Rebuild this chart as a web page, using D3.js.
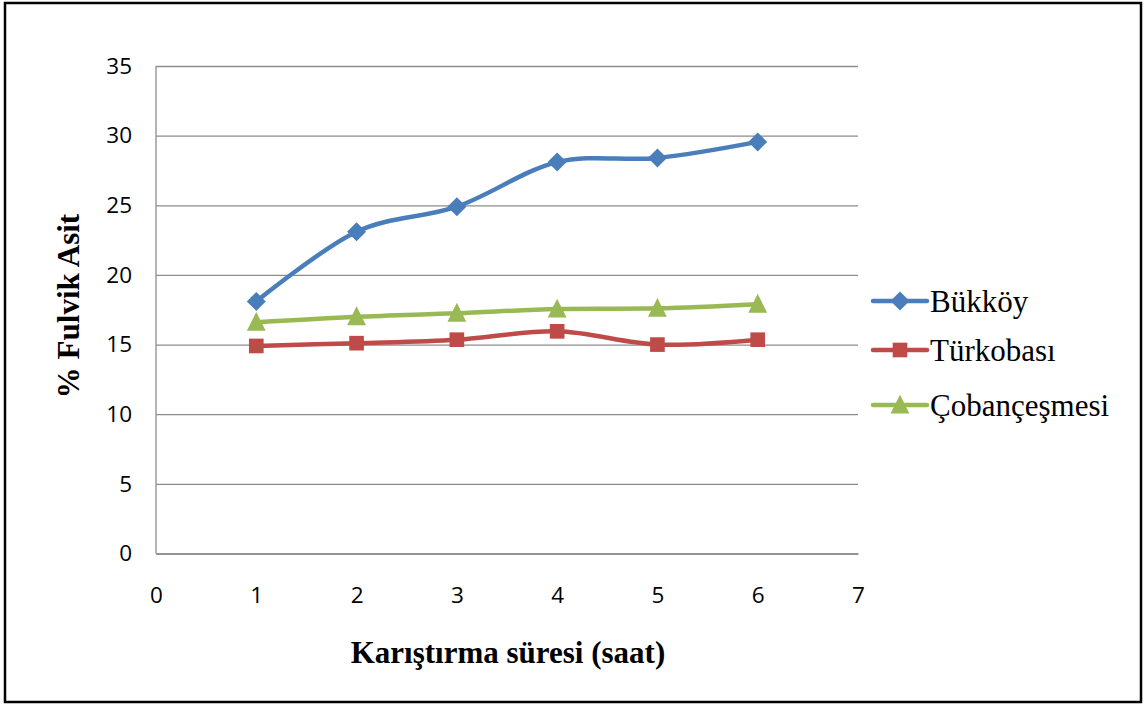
<!DOCTYPE html>
<html>
<head>
<meta charset="utf-8">
<script src="https://cdn.jsdelivr.net/npm/d3@7"></script>
<style>
  body { margin: 0; background: #fff; }
  .grid line { stroke: #8c8c8c; stroke-width: 1.3; }
</style>
</head>
<body>
<svg width="1148" height="706"></svg>
<script>
let svg = d3.select("svg"),
    width = +svg.attr("width"),
    height = +svg.attr("height");

// values
let hours = [1, 2, 3, 4, 5, 6];
let bukkoy = [18.1, 23.1, 24.9, 28.1, 28.4, 29.55];
let turkobasi = [14.9, 15.1, 15.35, 15.95, 15.0, 15.35];
let cobancesmesi = [16.6, 17.0, 17.25, 17.55, 17.6, 17.9];
let seriesNames = ["Bükköy", "Türkobası", "Çobançeşmesi"];
let seriesColors = ["#4a7ebb", "#be4b48", "#98b954"];
let xTicks = [0, 1, 2, 3, 4, 5, 6, 7];
let yTicks = [0, 5, 10, 15, 20, 25, 30, 35];

// diamond = square turned 45deg, like the office marker
let diamond = {
    draw(ctx, size) {
        let r = Math.sqrt(size) / 2 * Math.SQRT2;
        ctx.moveTo(0, -r); ctx.lineTo(r, 0); ctx.lineTo(0, r); ctx.lineTo(-r, 0); ctx.closePath();
    }
};
let triangle = {
    draw(ctx, size) {
        let w = Math.sqrt(size) * 1.3, h = Math.sqrt(size) * 1.3;
        ctx.moveTo(0, -h * 0.55); ctx.lineTo(w / 2, h * 0.45); ctx.lineTo(-w / 2, h * 0.45); ctx.closePath();
    }
};

let series = [bukkoy, turkobasi, cobancesmesi].map((vals, i) => ({
    name: seriesNames[i],
    color: seriesColors[i],
    shape: [diamond, d3.symbolSquare, triangle][i],
    size: [180, 215, 210][i],
    points: hours.map((h, j) => ({x: h, y: vals[j]}))
}));

let x = d3.scaleLinear().domain([0, 7]).range([156, 858]);
let y = d3.scaleLinear().domain([0, 35]).range([553.5, 66]);

// outer frame
svg.append("rect")
    .attr("x", 5).attr("y", 3)
    .attr("width", 1136).attr("height", 699)
    .attr("fill", "none")
    .attr("stroke", "#000")
    .attr("stroke-width", 2.5);

// gridlines + y labels
let gy = svg.append("g")
    .attr("class", "grid")
    .attr("transform", "translate(156,0)")
    .call(d3.axisLeft(y).tickValues(yTicks).tickSize(-(858 - 156)).tickPadding(24));
gy.select(".domain").remove();

svg.append("line")
    .attr("x1", 156).attr("x2", 156)
    .attr("y1", 66).attr("y2", 553.5)
    .attr("stroke", "#8c8c8c").attr("stroke-width", 1.3);

// x labels
let gx = svg.append("g")
    .attr("class", "grid")
    .attr("transform", "translate(0,553.5)")
    .call(d3.axisBottom(x).tickValues(xTicks).tickFormat(d3.format("d")).tickSize(0).tickPadding(34));
gx.select(".domain").attr("stroke", "#8c8c8c").attr("stroke-width", 1.3);

svg.selectAll(".tick text")
    .attr("font-family", "'Open Sans', 'Noto Sans', sans-serif")
    .attr("font-size", 22.5)
    .attr("fill", "#000");

// axis titles
svg.append("text")
    .attr("x", 508).attr("y", 663)
    .attr("text-anchor", "middle")
    .attr("font-family", "'Liberation Serif', serif")
    .attr("font-weight", "bold")
    .attr("font-size", 31)
    .text("Karıştırma süresi (saat)");

svg.append("text")
    .attr("transform", "translate(79,306) rotate(-90)")
    .attr("text-anchor", "middle")
    .attr("font-family", "'Liberation Serif', serif")
    .attr("font-weight", "bold")
    .attr("font-size", 31)
    .text("% Fulvik Asit");

let line = d3.line()
    .x(d => x(d.x))
    .y(d => y(d.y))
    .curve(d3.curveCatmullRom.alpha(0));

let g = svg.append("g");

series.forEach(s => {
    g.append("path")
        .datum(s.points)
        .attr("fill", "none")
        .attr("stroke", s.color)
        .attr("stroke-width", 4.5)
        .attr("stroke-linejoin", "round")
        .attr("d", line);
});

series.forEach(s => {
    g.selectAll(null)
        .data(s.points)
        .enter().append("path")
            .attr("transform", d => `translate(${x(d.x)},${y(d.y)})`)
            .attr("d", d3.symbol().type(s.shape).size(s.size))
            .attr("fill", s.color);
});

// legend
let legendY = [301, 350, 405];
let legend = svg.append("g");
series.forEach((s, i) => {
    let row = legend.append("g").attr("transform", `translate(0,${legendY[i]})`);
    row.append("line")
        .attr("x1", 873).attr("x2", 927)
        .attr("stroke", s.color).attr("stroke-width", 4.5)
        .attr("stroke-linecap", "round");
    row.append("path")
        .attr("transform", "translate(900,0)")
        .attr("d", d3.symbol().type(s.shape).size(s.size))
        .attr("fill", s.color);
    row.append("text")
        .attr("x", 930).attr("y", 0)
        .attr("dy", "0.35em")
        .attr("font-family", "'Liberation Serif', serif")
        .attr("font-size", 31)
        .text(s.name);
});
</script>
</body>
</html>
